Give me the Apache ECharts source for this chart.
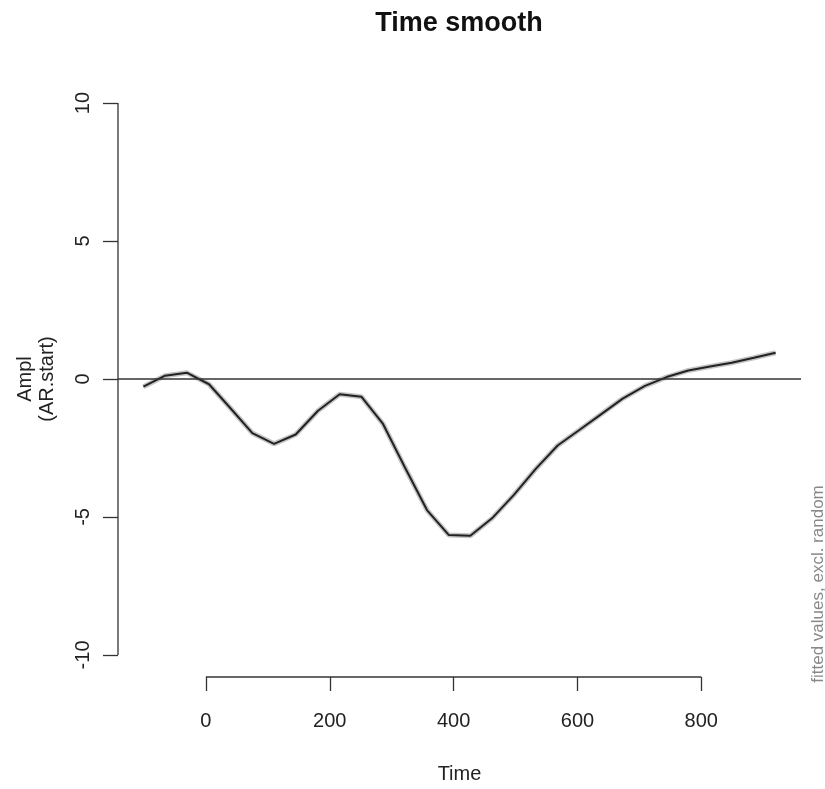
<!DOCTYPE html>
<html><head><meta charset="utf-8">
<script src="https://cdn.jsdelivr.net/npm/echarts@6/dist/echarts.min.js"></script>
<style>html,body{margin:0;padding:0;background:#fff}#c{width:825px;height:789px}</style>
</head><body><div id="c"></div>
<script>
const timeVals = [-101, -66, -31, 5, 40, 75, 110, 145, 181, 216, 251, 286, 321, 357, 392, 427, 462, 497, 533, 568, 603, 638, 673, 709, 744, 779, 814, 849, 885, 920];
const fitVals = [-0.28, 0.12, 0.23, -0.19, -1.07, -1.96, -2.35, -2.01, -1.15, -0.55, -0.64, -1.63, -3.19, -4.75, -5.65, -5.68, -5.05, -4.21, -3.25, -2.41, -1.85, -1.28, -0.71, -0.25, 0.07, 0.31, 0.45, 0.59, 0.77, 0.95];
const xTicks = [0, 200, 400, 600, 800];
const yTicks = [-10, -5, 0, 5, 10];
const xRange = [-142, 961];
const yRange = [-10.8, 10.8];

const FONT = '"Liberation Sans", Arial, Helvetica, sans-serif';
const pts = timeVals.map((t, i) => [t, fitVals[i]]);
const chart = echarts.init(document.getElementById('c'), null, {renderer: 'canvas'});
chart.setOption({
  animation: false,
  backgroundColor: '#fff',
  grid: {left: 118, right: 24, top: 81, bottom: 106, containLabel: false},
  xAxis: {type: 'value', min: xRange[0], max: xRange[1],
    axisLine: {show: false, onZero: false}, splitLine: {show: false},
    axisTick: {show: true, customValues: xTicks, length: 14, lineStyle: {color: '#333', width: 1.3}},
    axisLabel: {customValues: xTicks, margin: 34, fontFamily: FONT, fontSize: 20, color: '#222'},
    name: 'Time', nameLocation: 'middle', nameGap: 87,
    nameTextStyle: {fontFamily: FONT, fontSize: 20, color: '#222'}},
  yAxis: {type: 'value', min: yRange[0], max: yRange[1],
    axisLine: {show: false, onZero: false}, splitLine: {show: false},
    axisTick: {show: true, customValues: yTicks, length: 15, lineStyle: {color: '#333', width: 1.3}},
    axisLabel: {customValues: yTicks, rotate: 90, margin: 25, fontFamily: FONT, fontSize: 20, color: '#222'},
    name: 'Ampl\n(AR.start)', nameLocation: 'middle', nameRotate: 90, nameGap: 60,
    nameTextStyle: {fontFamily: FONT, fontSize: 20, color: '#222', lineHeight: 22}},
  graphic: [
    {type: 'text', x: 459, y: 24,
      style: {text: 'Time smooth', font: 'bold 27px ' + FONT, fill: '#111', align: 'center', verticalAlign: 'middle'}},
    {type: 'text', x: 818, y: 584, rotation: Math.PI / 2,
      style: {text: 'fitted values, excl. random', font: '17px ' + FONT, fill: '#888', align: 'center', verticalAlign: 'middle'}}
  ],
  series: [
    {type: 'line', data: [[xRange[0], yTicks[0]], [xRange[0], yTicks[yTicks.length - 1]]],
      symbol: 'none', clip: false, silent: true, lineStyle: {color: '#333', width: 1.3}},
    {type: 'line', data: [[xTicks[0], yRange[0]], [xTicks[xTicks.length - 1], yRange[0]]],
      symbol: 'none', clip: false, silent: true, lineStyle: {color: '#333', width: 1.3}},
    {type: 'line', data: pts, symbol: 'none', silent: true,
      lineStyle: {color: '#c4c4c4', width: 5}},
    {type: 'line', data: pts, symbol: 'none', silent: true,
      lineStyle: {color: '#222', width: 2},
      markLine: {symbol: 'none', silent: true, label: {show: false},
        lineStyle: {color: '#333', width: 1.6, type: 'solid'}, data: [{yAxis: 0}]}}
  ]
});
</script></body></html>
